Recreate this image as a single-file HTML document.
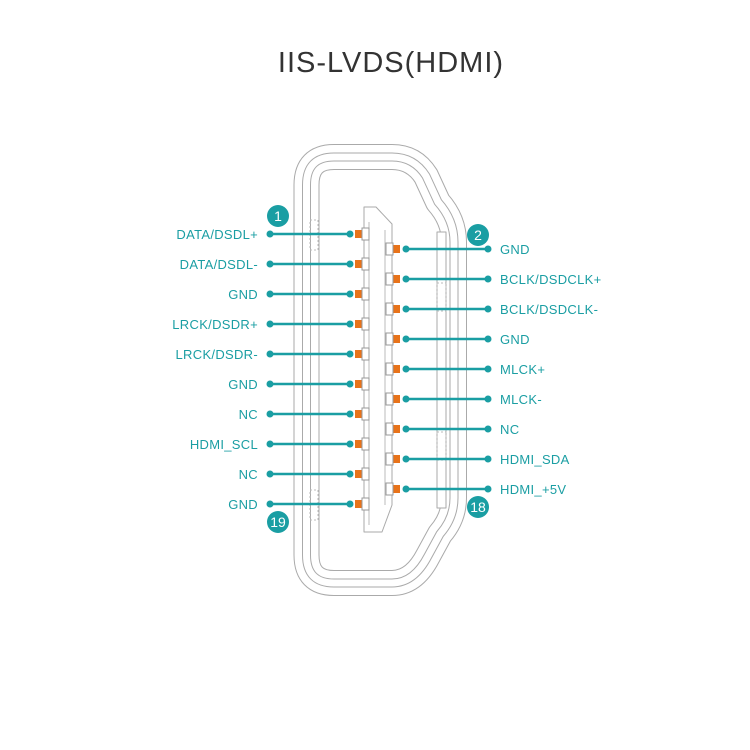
<!DOCTYPE html>
<html><head><meta charset="utf-8"><style>
html,body{margin:0;padding:0;background:#fff;}
svg{display:block;}
text{font-family:"Liberation Sans",sans-serif;}
.l{fill:#1a9ea3;font-size:13px;letter-spacing:0.3px;}
</style></head><body>
<svg width="750" height="750" viewBox="0 0 750 750" xmlns="http://www.w3.org/2000/svg">
<rect width="750" height="750" fill="#fff"/>
<text x="391" y="72" text-anchor="middle" font-size="29" fill="#333" letter-spacing="1">IIS-LVDS(HDMI)</text>
<g fill="none" stroke-linejoin="round">
<path d="M306.5 550 V185 Q306.5 157 334 157 H392 Q414 157 426 176 L438 202 Q454 220 454 242 V498 Q454 518 440 534 L428 556 Q414 583 392 583 H334 Q306.5 583 306.5 555 Z" stroke="#aaa" stroke-width="26"/>
<path d="M306.5 550 V185 Q306.5 157 334 157 H392 Q414 157 426 176 L438 202 Q454 220 454 242 V498 Q454 518 440 534 L428 556 Q414 583 392 583 H334 Q306.5 583 306.5 555 Z" stroke="#fff" stroke-width="24"/>
<path d="M306.5 550 V185 Q306.5 157 334 157 H392 Q414 157 426 176 L438 202 Q454 220 454 242 V498 Q454 518 440 534 L428 556 Q414 583 392 583 H334 Q306.5 583 306.5 555 Z" stroke="#aaa" stroke-width="9"/>
<path d="M306.5 550 V185 Q306.5 157 334 157 H392 Q414 157 426 176 L438 202 Q454 220 454 242 V498 Q454 518 440 534 L428 556 Q414 583 392 583 H334 Q306.5 583 306.5 555 Z" stroke="#fff" stroke-width="7"/>
<rect x="437" y="232" width="9" height="276" fill="#fff" stroke="#aaa"/>
<rect x="310" y="220" width="8" height="30" stroke="#bbb" stroke-dasharray="2 2"/>
<rect x="310" y="490" width="8" height="30" stroke="#bbb" stroke-dasharray="2 2"/>
<rect x="437" y="283" width="9" height="28" stroke="#bbb" stroke-dasharray="2 2"/>
<rect x="437" y="432" width="9" height="28" stroke="#bbb" stroke-dasharray="2 2"/>
<path d="M364 207 H376 L392 224 V505 L382 532 H364 Z" fill="#fff" stroke="#aaa"/>
<path d="M369 222 V525" stroke="#bbb"/>
<path d="M385 230 V505" stroke="#bbb"/>
</g>
<g fill="#1a9ea3" stroke="#1a9ea3" stroke-width="2.5">
<g transform="translate(0,234)"><line x1="270" x2="350" y1="0" y2="0"/><circle cx="270" r="3.5" stroke="none"/><circle cx="350" r="3.5" stroke="none"/></g>
<g transform="translate(0,264)"><line x1="270" x2="350" y1="0" y2="0"/><circle cx="270" r="3.5" stroke="none"/><circle cx="350" r="3.5" stroke="none"/></g>
<g transform="translate(0,294)"><line x1="270" x2="350" y1="0" y2="0"/><circle cx="270" r="3.5" stroke="none"/><circle cx="350" r="3.5" stroke="none"/></g>
<g transform="translate(0,324)"><line x1="270" x2="350" y1="0" y2="0"/><circle cx="270" r="3.5" stroke="none"/><circle cx="350" r="3.5" stroke="none"/></g>
<g transform="translate(0,354)"><line x1="270" x2="350" y1="0" y2="0"/><circle cx="270" r="3.5" stroke="none"/><circle cx="350" r="3.5" stroke="none"/></g>
<g transform="translate(0,384)"><line x1="270" x2="350" y1="0" y2="0"/><circle cx="270" r="3.5" stroke="none"/><circle cx="350" r="3.5" stroke="none"/></g>
<g transform="translate(0,414)"><line x1="270" x2="350" y1="0" y2="0"/><circle cx="270" r="3.5" stroke="none"/><circle cx="350" r="3.5" stroke="none"/></g>
<g transform="translate(0,444)"><line x1="270" x2="350" y1="0" y2="0"/><circle cx="270" r="3.5" stroke="none"/><circle cx="350" r="3.5" stroke="none"/></g>
<g transform="translate(0,474)"><line x1="270" x2="350" y1="0" y2="0"/><circle cx="270" r="3.5" stroke="none"/><circle cx="350" r="3.5" stroke="none"/></g>
<g transform="translate(0,504)"><line x1="270" x2="350" y1="0" y2="0"/><circle cx="270" r="3.5" stroke="none"/><circle cx="350" r="3.5" stroke="none"/></g>
</g>
<g fill="#1a9ea3" stroke="#1a9ea3" stroke-width="2.5">
<g transform="translate(0,249)"><line x1="406" x2="488" y1="0" y2="0"/><circle cx="406" r="3.5" stroke="none"/><circle cx="488" r="3.5" stroke="none"/></g>
<g transform="translate(0,279)"><line x1="406" x2="488" y1="0" y2="0"/><circle cx="406" r="3.5" stroke="none"/><circle cx="488" r="3.5" stroke="none"/></g>
<g transform="translate(0,309)"><line x1="406" x2="488" y1="0" y2="0"/><circle cx="406" r="3.5" stroke="none"/><circle cx="488" r="3.5" stroke="none"/></g>
<g transform="translate(0,339)"><line x1="406" x2="488" y1="0" y2="0"/><circle cx="406" r="3.5" stroke="none"/><circle cx="488" r="3.5" stroke="none"/></g>
<g transform="translate(0,369)"><line x1="406" x2="488" y1="0" y2="0"/><circle cx="406" r="3.5" stroke="none"/><circle cx="488" r="3.5" stroke="none"/></g>
<g transform="translate(0,399)"><line x1="406" x2="488" y1="0" y2="0"/><circle cx="406" r="3.5" stroke="none"/><circle cx="488" r="3.5" stroke="none"/></g>
<g transform="translate(0,429)"><line x1="406" x2="488" y1="0" y2="0"/><circle cx="406" r="3.5" stroke="none"/><circle cx="488" r="3.5" stroke="none"/></g>
<g transform="translate(0,459)"><line x1="406" x2="488" y1="0" y2="0"/><circle cx="406" r="3.5" stroke="none"/><circle cx="488" r="3.5" stroke="none"/></g>
<g transform="translate(0,489)"><line x1="406" x2="488" y1="0" y2="0"/><circle cx="406" r="3.5" stroke="none"/><circle cx="488" r="3.5" stroke="none"/></g>
</g>
<g>
<g transform="translate(0,234)"><rect x="355" y="-4" width="7" height="8" fill="#e8731a"/><rect x="362" y="-6" width="7" height="12" fill="#fff" stroke="#999"/></g>
<g transform="translate(0,264)"><rect x="355" y="-4" width="7" height="8" fill="#e8731a"/><rect x="362" y="-6" width="7" height="12" fill="#fff" stroke="#999"/></g>
<g transform="translate(0,294)"><rect x="355" y="-4" width="7" height="8" fill="#e8731a"/><rect x="362" y="-6" width="7" height="12" fill="#fff" stroke="#999"/></g>
<g transform="translate(0,324)"><rect x="355" y="-4" width="7" height="8" fill="#e8731a"/><rect x="362" y="-6" width="7" height="12" fill="#fff" stroke="#999"/></g>
<g transform="translate(0,354)"><rect x="355" y="-4" width="7" height="8" fill="#e8731a"/><rect x="362" y="-6" width="7" height="12" fill="#fff" stroke="#999"/></g>
<g transform="translate(0,384)"><rect x="355" y="-4" width="7" height="8" fill="#e8731a"/><rect x="362" y="-6" width="7" height="12" fill="#fff" stroke="#999"/></g>
<g transform="translate(0,414)"><rect x="355" y="-4" width="7" height="8" fill="#e8731a"/><rect x="362" y="-6" width="7" height="12" fill="#fff" stroke="#999"/></g>
<g transform="translate(0,444)"><rect x="355" y="-4" width="7" height="8" fill="#e8731a"/><rect x="362" y="-6" width="7" height="12" fill="#fff" stroke="#999"/></g>
<g transform="translate(0,474)"><rect x="355" y="-4" width="7" height="8" fill="#e8731a"/><rect x="362" y="-6" width="7" height="12" fill="#fff" stroke="#999"/></g>
<g transform="translate(0,504)"><rect x="355" y="-4" width="7" height="8" fill="#e8731a"/><rect x="362" y="-6" width="7" height="12" fill="#fff" stroke="#999"/></g>
</g>
<g>
<g transform="translate(0,249)"><rect x="393" y="-4" width="7" height="8" fill="#e8731a"/><rect x="386" y="-6" width="7" height="12" fill="#fff" stroke="#999"/></g>
<g transform="translate(0,279)"><rect x="393" y="-4" width="7" height="8" fill="#e8731a"/><rect x="386" y="-6" width="7" height="12" fill="#fff" stroke="#999"/></g>
<g transform="translate(0,309)"><rect x="393" y="-4" width="7" height="8" fill="#e8731a"/><rect x="386" y="-6" width="7" height="12" fill="#fff" stroke="#999"/></g>
<g transform="translate(0,339)"><rect x="393" y="-4" width="7" height="8" fill="#e8731a"/><rect x="386" y="-6" width="7" height="12" fill="#fff" stroke="#999"/></g>
<g transform="translate(0,369)"><rect x="393" y="-4" width="7" height="8" fill="#e8731a"/><rect x="386" y="-6" width="7" height="12" fill="#fff" stroke="#999"/></g>
<g transform="translate(0,399)"><rect x="393" y="-4" width="7" height="8" fill="#e8731a"/><rect x="386" y="-6" width="7" height="12" fill="#fff" stroke="#999"/></g>
<g transform="translate(0,429)"><rect x="393" y="-4" width="7" height="8" fill="#e8731a"/><rect x="386" y="-6" width="7" height="12" fill="#fff" stroke="#999"/></g>
<g transform="translate(0,459)"><rect x="393" y="-4" width="7" height="8" fill="#e8731a"/><rect x="386" y="-6" width="7" height="12" fill="#fff" stroke="#999"/></g>
<g transform="translate(0,489)"><rect x="393" y="-4" width="7" height="8" fill="#e8731a"/><rect x="386" y="-6" width="7" height="12" fill="#fff" stroke="#999"/></g>
</g>
<g class="l" text-anchor="end">
<text x="258" y="239">DATA/DSDL+</text>
<text x="258" y="269">DATA/DSDL-</text>
<text x="258" y="299">GND</text>
<text x="258" y="329">LRCK/DSDR+</text>
<text x="258" y="359">LRCK/DSDR-</text>
<text x="258" y="389">GND</text>
<text x="258" y="419">NC</text>
<text x="258" y="449">HDMI_SCL</text>
<text x="258" y="479">NC</text>
<text x="258" y="509">GND</text>
</g>
<g class="l">
<text x="500" y="254">GND</text>
<text x="500" y="284">BCLK/DSDCLK+</text>
<text x="500" y="314">BCLK/DSDCLK-</text>
<text x="500" y="344">GND</text>
<text x="500" y="374">MLCK+</text>
<text x="500" y="404">MLCK-</text>
<text x="500" y="434">NC</text>
<text x="500" y="464">HDMI_SDA</text>
<text x="500" y="494">HDMI_+5V</text>
</g>
<g fill="#1a9ea3">
<circle cx="278" cy="216" r="11"/><circle cx="478" cy="235" r="11"/>
<circle cx="278" cy="522" r="11"/><circle cx="478" cy="507" r="11"/>
</g>
<g fill="#fff" font-size="14" text-anchor="middle">
<text x="278" y="221">1</text><text x="478" y="240">2</text>
<text x="278" y="527">19</text><text x="478" y="512">18</text>
</g>
</svg>
</body></html>
